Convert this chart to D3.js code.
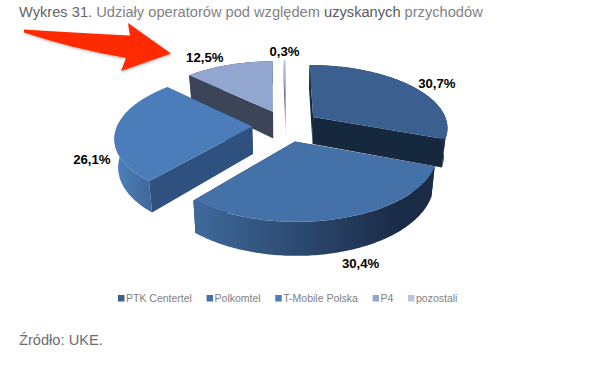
<!DOCTYPE html>
<html lang="en">

<head>
	<meta charset="utf-8">
	<script src='https://d3js.org/d3.v7.min.js'></script>
	<style>
		html, body { margin: 0; padding: 0; background: #fff; }
		svg { display: block; }
		text { font-family: "Liberation Sans", Arial, sans-serif; }
	</style>
</head>

<body>
	<script>
		// Data
		const operators = ["PTK Centertel", "Polkomtel", "T-Mobile Polska", "P4", "pozostali"];
		const shares = [30.7, 30.4, 26.1, 12.5, 0.3];
		const shareLabels = ["30,7%", "30,4%", "26,1%", "12,5%", "0,3%"];

		// Colours, one per operator
		const topColors = ["#3b5f8f", "#4472a8", "#4b7dbb", "#92a6d0", "#b9c6e2"];
		const wallColors = ["#16283d", "#1c2f4c", "#2e5180", "#3c4558", "#6d7482"];
		const rimColors = [["#1c3049", "#1c3049"], ["#3f6a9b", "#1a2b47"], ["#4f81bd", "#3a6292"], ["#3c4558", "#3c4558"], ["#6d7482", "#6d7482"]];

		// Set Dimensions
		const xSize = 606;
		const ySize = 376;
		const cx = 286;        // pie centre on screen
		const cy = 125.7;
		const rx = 135;        // horizontal radius before perspective
		const ry = 62.5;       // vertical radius before perspective
		const persp = 0.155;   // how much the back of the pie shrinks
		const explode = 0.25;  // slice offset, in radii
		const depth = 27.5;    // height of the pie
		const bottomShrink = 0.978;

		const svg = d3.select("body").append("svg")
			.attr("width", xSize)
			.attr("height", ySize);
		const defs = svg.append("defs");

		const x = d3.scaleLinear().domain([-1, 1]).range([cx - rx, cx + rx]);
		const y = d3.scaleLinear().domain([-1, 1]).range([cy + ry, cy - ry]);

		// plane coords (u right, v back) to screen, bottom = lower face of the pie
		function project(u, v, bottom) {
			const d = 1 + persp * v;
			const px = x(u / d);
			return bottom
				? [cx + (px - cx) * bottomShrink, y(v / d) + depth / d]
				: [px, y(v / d)];
		}

		const slices = d3.pie().sort(null).value(d => d)(shares).map((s, i) => {
			const mid = (s.startAngle + s.endAngle) / 2;
			const ou = explode * Math.sin(mid);
			const ov = explode * Math.cos(mid);
			const steps = Math.max(2, Math.ceil((s.endAngle - s.startAngle) * 60));
			const angles = d3.range(steps + 1).map(k => s.startAngle + (s.endAngle - s.startAngle) * k / steps);
			const rim = angles.map(a => [ou + Math.sin(a), ov + Math.cos(a)]);
			return { i, mid, ou, ov, rim };
		});

		const line = d3.line().curve(d3.curveLinear);
		const poly = pts => line(pts) + "Z";

		// Gradients for the outer rim
		slices.forEach(s => {
			const xs = s.rim.map(p => project(p[0], p[1])[0]);
			const grad = defs.append("linearGradient")
				.attr("id", "rim" + s.i)
				.attr("gradientUnits", "userSpaceOnUse")
				.attr("x1", d3.min(xs)).attr("y1", 0)
				.attr("x2", d3.max(xs)).attr("y2", 0);
			grad.append("stop").attr("offset", "0%").attr("stop-color", rimColors[s.i][0]);
			grad.append("stop").attr("offset", "85%").attr("stop-color", rimColors[s.i][1]);
		});

		// the tiny slice fades from light to dark on top, then out again on its wall
		const thinTop = defs.append("linearGradient")
			.attr("id", "thinTop")
			.attr("x1", 0).attr("y1", 0).attr("x2", 0).attr("y2", 1);
		thinTop.append("stop").attr("offset", "0%").attr("stop-color", "#c3cfe6");
		thinTop.append("stop").attr("offset", "100%").attr("stop-color", "#5f6675");
		const thinWall = defs.append("linearGradient")
			.attr("id", "thinWall")
			.attr("x1", 0).attr("y1", 0).attr("x2", 0).attr("y2", 1);
		thinWall.append("stop").attr("offset", "0%").attr("stop-color", "#5f6675");
		thinWall.append("stop").attr("offset", "55%").attr("stop-color", "#5f6675");
		thinWall.append("stop").attr("offset", "100%").attr("stop-color", "#e4e7ee");

		// Back to front
		const drawOrder = [4, 3, 0, 2, 1];
		const pie3d = svg.append("g");
		drawOrder.forEach(i => {
			const s = slices[i];
			const apex = [s.ou, s.ov];
			const first = s.rim[0];
			const last = s.rim[s.rim.length - 1];
			const wallFill = i === 4 ? "url(#thinWall)" : wallColors[i];

			[first, last].forEach(edge => {
				pie3d.append("path")
					.attr("d", poly([
						project(apex[0], apex[1]), project(edge[0], edge[1]),
						project(edge[0], edge[1], true), project(apex[0], apex[1], true)
					]))
					.attr("fill", wallFill);
			});

			const rimTop = s.rim.map(p => project(p[0], p[1]));
			const rimBottom = s.rim.map(p => project(p[0], p[1], true)).reverse();
			// the rim of the tiny slice is at the back and never shows
			if (i !== 4) {
				pie3d.append("path")
					.attr("d", poly(rimTop.concat(rimBottom)))
					.attr("fill", "url(#rim" + i + ")");
			}

			pie3d.append("path")
				.attr("d", poly([project(apex[0], apex[1])].concat(rimTop)))
				.attr("fill", i === 4 ? "url(#thinTop)" : topColors[i]);
		});

		// Value labels, pushed past the rim and then nudged
		const labelReach = 1.18;
		const labelNudge = [[10, 8], [12, 32], [1, 33], [-17, 4], [0, 3]];
		svg.append("g").selectAll("text")
			.data(slices)
			.join("text")
			.attr("x", s => project(s.ou + labelReach * Math.sin(s.mid), s.ov + labelReach * Math.cos(s.mid))[0] + labelNudge[s.i][0])
			.attr("y", s => project(s.ou + labelReach * Math.sin(s.mid), s.ov + labelReach * Math.cos(s.mid))[1] + labelNudge[s.i][1])
			.attr("text-anchor", "middle")
			.attr("font-size", 13.2)
			.attr("font-weight", "bold")
			.attr("fill", "#000")
			.text(s => shareLabels[s.i]);

		// Legend
		const legend = svg.append("g");
		let legendX = 118;
		operators.forEach((name, i) => {
			legend.append("rect")
				.attr("x", legendX).attr("y", 295)
				.attr("width", 6.5).attr("height", 6.5)
				.attr("fill", topColors[i]);
			const label = legend.append("text")
				.attr("x", legendX + 8).attr("y", 302)
				.attr("font-size", 10.5)
				.attr("fill", "#7f7f7f")
				.text(name);
			legendX += 8 + label.node().getComputedTextLength() + 14.6;
		});

		// Title
		const title = svg.append("text")
			.attr("x", 19).attr("y", 17)
			.attr("font-size", 14.65)
			.attr("fill", "#808285");
		title.append("tspan").attr("fill", "#636466").text("Wykres 31.");
		title.append("tspan").text(" Udziały operatorów pod względem ");
		title.append("tspan").attr("fill", "#58595b").text("uzyskanych");
		title.append("tspan").text(" przychodów");

		// Source
		svg.append("text")
			.attr("x", 19).attr("y", 345)
			.attr("font-size", 14.65)
			.attr("fill", "#6d6e71")
			.text("Źródło: UKE.");

		// Red arrow drawn over the page
		defs.append("filter").attr("id", "arrowShadow")
			.attr("x", "-10%").attr("y", "-10%").attr("width", "120%").attr("height", "130%")
			.append("feDropShadow")
			.attr("dx", 0.5).attr("dy", 1.5).attr("stdDeviation", 1)
			.attr("flood-color", "#000").attr("flood-opacity", 0.25);
		svg.append("path")
			.attr("d", "M24,29.5 Q80,33 130,35.5 L128,23 L171,53.5 L121,71 L126,58 Q70,48 24,32.5 Z")
			.attr("fill", "#ff2a00")
			.attr("filter", "url(#arrowShadow)");
	</script>
</body>

</html>
